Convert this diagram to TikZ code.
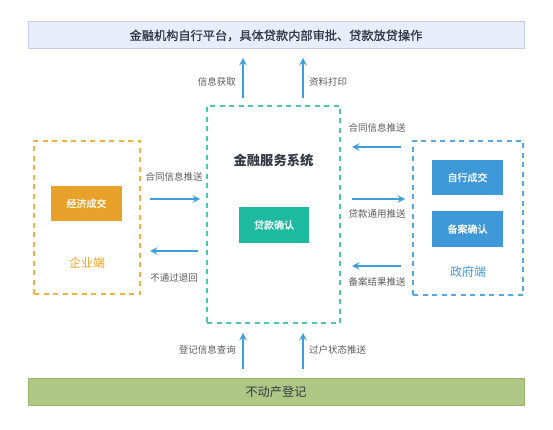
\documentclass[tikz,border=0pt]{standalone}
\usepackage{fontspec}
\setmainfont{Noto Sans CJK SC}
\newfontfamily\medfont{Noto Sans CJK SC}[FakeBold=0.8]
\usetikzlibrary{arrows.meta}
\definecolor{topfill}{HTML}{E8EDF9}
\definecolor{topline}{HTML}{C3CBE6}
\definecolor{botfill}{HTML}{AFC785}
\definecolor{botline}{HTML}{9BB56E}
\definecolor{orangebox}{HTML}{E9A229}
\definecolor{orangedash}{HTML}{F1B244}
\definecolor{tealbox}{HTML}{1DB9A0}
\definecolor{tealdash}{HTML}{4CC8B2}
\definecolor{bluebox}{HTML}{3F98D8}
\definecolor{bluedash}{HTML}{55A8E2}
\definecolor{arrowblue}{HTML}{3DA0DC}
\definecolor{labelgray}{HTML}{5A5A5A}
\definecolor{titledark}{HTML}{333A45}
\begin{document}
\begin{tikzpicture}[x=1pt,y=-1pt,
  bar/.style={draw=#1, line width=1pt, inner sep=0pt},
  dashbox/.style={draw=#1, line width=1.3pt, dash pattern=on 5pt off 4.5pt, inner sep=0pt},
  solidbox/.style={fill=#1, draw=none, text=white, inner sep=0pt, minimum width=71pt, minimum height=35pt, font=\medfont\fontsize{10}{12}\selectfont},
  lbl/.style={text=labelgray, font=\fontsize{9.5}{11}\selectfont, inner sep=0pt},
  flow/.style={draw=arrowblue, line width=1.3pt, -{Stealth[length=7.5pt,width=7.5pt,inset=3pt]}},
  sidetitle/.style={font=\fontsize{12}{14}\selectfont, inner sep=0pt}
]
\useasboundingbox (0,0) rectangle (553,430);
% top and bottom bars
\node[bar=topline, fill=topfill, minimum width=496pt, minimum height=27pt, text=titledark, font=\medfont\fontsize{12.2}{14}\selectfont] (top) at (276,35.5) {金融机构自行平台，具体贷款内部审批、贷款放贷操作};
\node[bar=botline, fill=botfill, minimum width=496pt, minimum height=27pt, text=titledark, font=\fontsize{12.2}{14}\selectfont] (bottom) at (276,391.5) {不动产登记};
% center system
\node[dashbox=tealdash, minimum width=133pt, minimum height=217pt] (center) at (273.5,214.5) {};
\node[text=titledark, font=\fontsize{13.3}{15}\selectfont\bfseries, inner sep=0pt] (ctitle) at (273.5,160) {金融服务系统};
\node[solidbox=tealbox, minimum width=70pt, minimum height=36pt] (loan) at (274,225) {贷款确认};
% enterprise side
\node[dashbox=orangedash, minimum width=106pt, minimum height=153pt] (ent) at (87,217.5) {};
\node[solidbox=orangebox] (deal) at (86.5,203.5) {经济成交};
\node[sidetitle, text=orangebox] (entlabel) at (87,263) {企业端};
% government side
\node[dashbox=bluedash, minimum width=110pt, minimum height=154pt] (gov) at (468,218) {};
\node[solidbox=bluebox] (self) at (467.5,177.5) {自行成交};
\node[solidbox=bluebox, minimum height=36pt] (record) at (467.5,229) {备案确认};
\node[sidetitle, text=bluebox] (govlabel) at (468,272) {政府端};
% arrow end points
\coordinate (u1s) at (243,98);  \coordinate (u1e) at (243,58);
\coordinate (u2s) at (303,98);  \coordinate (u2e) at (303,58);
\coordinate (d1s) at (243,369); \coordinate (d1e) at (243,333);
\coordinate (d2s) at (303,369); \coordinate (d2e) at (303,333);
\coordinate (l1s) at (150,199); \coordinate (l1e) at (200,199);
\coordinate (l2s) at (198,251); \coordinate (l2e) at (150,251);
\coordinate (r1s) at (401,147); \coordinate (r1e) at (352,147);
\coordinate (r2s) at (352,199); \coordinate (r2e) at (405,199);
\coordinate (r3s) at (401,266); \coordinate (r3e) at (352,266);
% arrows
\draw[flow] (u1s) -- (u1e);
\draw[flow] (u2s) -- (u2e);
\draw[flow] (d1s) -- (d1e);
\draw[flow] (d2s) -- (d2e);
\draw[flow] (l1s) -- (l1e);
\draw[flow] (l2s) -- (l2e);
\draw[flow] (r1s) -- (r1e);
\draw[flow] (r2s) -- (r2e);
\draw[flow] (r3s) -- (r3e);
% labels
\node[lbl, anchor=east] (t1) at (236,82) {信息获取};
\node[lbl, anchor=west] (t2) at (309,82) {资料打印};
\node[lbl, anchor=east] (t3) at (236,350) {登记信息查询};
\node[lbl, anchor=west] (t4) at (309,350) {过户状态推送};
\node[lbl] (t5) at (174,177) {合同信息推送};
\node[lbl] (t6) at (174,278) {不通过退回};
\node[lbl] (t7) at (377,128) {合同信息推送};
\node[lbl] (t8) at (377,214) {贷款通用推送};
\node[lbl] (t9) at (377,282) {备案结果推送};
\end{tikzpicture}
\end{document}
